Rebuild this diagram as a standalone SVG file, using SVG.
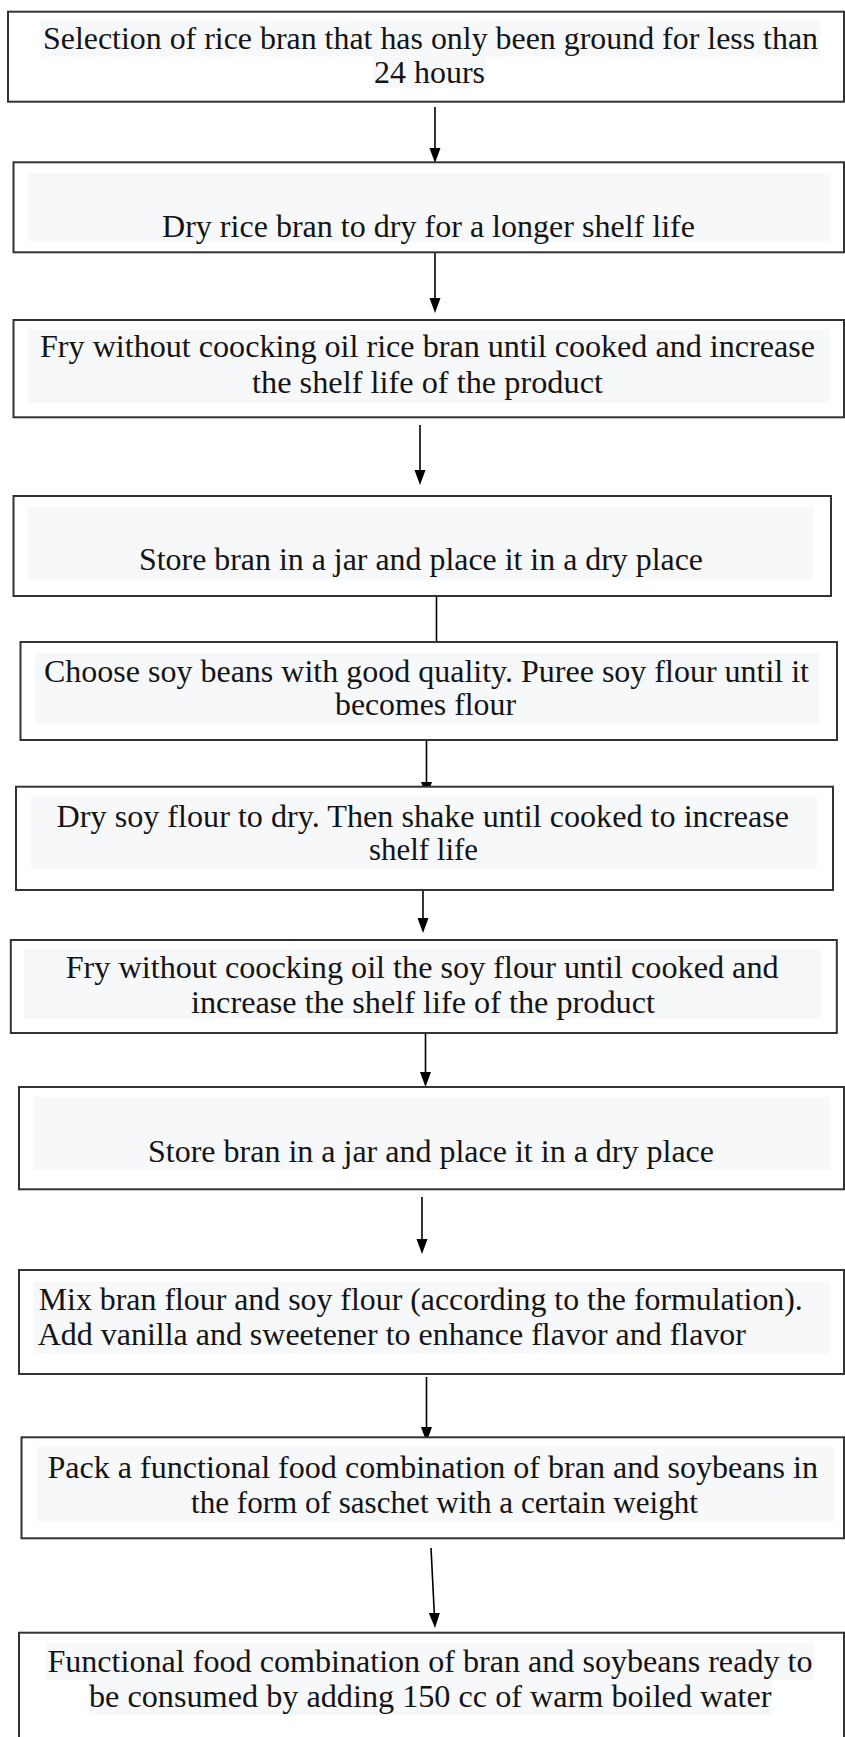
<svg xmlns="http://www.w3.org/2000/svg" width="845" height="1737" viewBox="0 0 845 1737">
<style>
.box{fill:#ffffff;stroke:#333333;stroke-width:2}
.hl{fill:#f7f8fa}
.t{font-family:"Liberation Serif","Times New Roman","DejaVu Serif",serif;font-size:32px;fill:#141414}
.ln{stroke:#000;stroke-width:1.6;fill:none}
.ah{fill:#000}
</style>
<rect x="0" y="0" width="845" height="1737" fill="#ffffff"/>
<g id="connectors">
<line class="ln" x1="435" y1="107" x2="435" y2="150"/><polygon class="ah" points="429.5,148 440.5,148 435,163"/>
<line class="ln" x1="435" y1="252" x2="435" y2="300"/><polygon class="ah" points="429.5,298 440.5,298 435,313"/>
<line class="ln" x1="420" y1="425" x2="420" y2="472"/><polygon class="ah" points="414.5,470 425.5,470 420,485"/>
<line class="ln" x1="436.5" y1="596" x2="436.5" y2="643"/><polygon class="ah" points="431,641 442,641 436.5,656"/>
<line class="ln" x1="426.5" y1="740" x2="426.5" y2="784"/><polygon class="ah" points="421,782 432,782 426.5,797"/>
<line class="ln" x1="423" y1="887" x2="423" y2="920"/><polygon class="ah" points="417.5,918 428.5,918 423,933"/>
<line class="ln" x1="425.5" y1="1030" x2="425.5" y2="1074"/><polygon class="ah" points="420,1072 431,1072 425.5,1087"/>
<line class="ln" x1="422" y1="1197" x2="422" y2="1241"/><polygon class="ah" points="416.5,1239 427.5,1239 422,1254"/>
<line class="ln" x1="426.5" y1="1377" x2="426.5" y2="1429"/><polygon class="ah" points="421,1427 432,1427 426.5,1442"/>
<line class="ln" x1="431" y1="1548" x2="434.4" y2="1615"/><polygon class="ah" points="428.8,1613 439.8,1613 435,1628"/>
</g>
<g id="n1">
<rect class="box" x="8" y="11.7" width="836" height="90"/>
<rect class="hl" x="40.7" y="20.7" width="779.3" height="36"/>
<rect class="hl" x="373" y="57" width="113" height="31"/>
<text class="t" x="43" y="49.3" textLength="775" lengthAdjust="spacingAndGlyphs">Selection of rice bran that has only been ground for less than</text>
<text class="t" x="374" y="83" textLength="111" lengthAdjust="spacingAndGlyphs">24 hours</text>
</g>
<g id="n2">
<rect class="box" x="13.5" y="162.3" width="830.5" height="90"/>
<rect class="hl" x="28" y="173.3" width="802" height="68.4"/>
<text class="t" x="162" y="237" textLength="533" lengthAdjust="spacingAndGlyphs">Dry rice bran to dry for a longer shelf life</text>
</g>
<g id="n3">
<rect class="box" x="13.5" y="320" width="830.5" height="97.3"/>
<rect class="hl" x="28" y="329" width="802" height="74"/>
<text class="t" x="40" y="356.7" textLength="775" lengthAdjust="spacingAndGlyphs">Fry without coocking oil rice bran until cooked and increase</text>
<text class="t" x="252" y="393" textLength="351" lengthAdjust="spacingAndGlyphs">the shelf life of the product</text>
</g>
<g id="n4">
<rect class="box" x="13.5" y="496" width="817.5" height="100"/>
<rect class="hl" x="28" y="506.7" width="785.6" height="72.6"/>
<text class="t" x="139" y="570" textLength="564" lengthAdjust="spacingAndGlyphs">Store bran in a jar and place it in a dry place</text>
</g>
<g id="n5">
<rect class="box" x="20.5" y="642" width="816.5" height="98"/>
<rect class="hl" x="35" y="653" width="784" height="71"/>
<text class="t" x="44" y="681.7" textLength="765" lengthAdjust="spacingAndGlyphs">Choose soy beans with good quality. Puree soy flour until it</text>
<text class="t" x="335" y="715" textLength="181" lengthAdjust="spacingAndGlyphs">becomes flour</text>
</g>
<g id="n6">
<rect class="box" x="16" y="786.7" width="817" height="103.3"/>
<rect class="hl" x="31" y="796.7" width="786" height="72.3"/>
<text class="t" x="56.6" y="826.7" textLength="732.4" lengthAdjust="spacingAndGlyphs">Dry soy flour to dry. Then shake until cooked to increase</text>
<text class="t" x="369" y="860" textLength="109" lengthAdjust="spacingAndGlyphs">shelf life</text>
</g>
<g id="n7">
<rect class="box" x="10.8" y="940" width="826" height="93"/>
<rect class="hl" x="24" y="949" width="797.7" height="70"/>
<text class="t" x="65.7" y="978" textLength="712.9" lengthAdjust="spacingAndGlyphs">Fry without coocking oil the soy flour until cooked and</text>
<text class="t" x="191" y="1012.7" textLength="464" lengthAdjust="spacingAndGlyphs">increase the shelf life of the product</text>
</g>
<g id="n8">
<rect class="box" x="19" y="1087" width="825" height="102.3"/>
<rect class="hl" x="33.4" y="1097" width="796.6" height="73"/>
<text class="t" x="148" y="1161.7" textLength="566" lengthAdjust="spacingAndGlyphs">Store bran in a jar and place it in a dry place</text>
</g>
<g id="n9">
<rect class="box" x="19" y="1270" width="825" height="104"/>
<rect class="hl" x="33.4" y="1281.7" width="796.6" height="71.6"/>
<text class="t" x="38.8" y="1310" textLength="764" lengthAdjust="spacingAndGlyphs">Mix bran flour and soy flour (according to the formulation).</text>
<text class="t" x="37.7" y="1345" textLength="708.3" lengthAdjust="spacingAndGlyphs">Add vanilla and sweetener to enhance flavor and flavor</text>
</g>
<g id="n10">
<rect class="box" x="21.5" y="1437.3" width="822.5" height="101"/>
<rect class="hl" x="36.6" y="1446.7" width="797.4" height="75"/>
<text class="t" x="47.4" y="1478.3" textLength="770.6" lengthAdjust="spacingAndGlyphs">Pack a functional food combination of bran and soybeans in</text>
<text class="t" x="191" y="1513.3" textLength="507" lengthAdjust="spacingAndGlyphs">the form of saschet with a certain weight</text>
</g>
<g id="n11">
<rect class="box" x="19" y="1632.7" width="825" height="110"/>
<rect class="hl" x="45.8" y="1643" width="768.2" height="37"/>
<rect class="hl" x="89" y="1680" width="683" height="35"/>
<text class="t" x="47.4" y="1671.7" textLength="765.1" lengthAdjust="spacingAndGlyphs">Functional food combination of bran and soybeans ready to</text>
<text class="t" x="89" y="1706.7" textLength="682.6" lengthAdjust="spacingAndGlyphs">be consumed by adding 150 cc of warm boiled water</text>
</g>
</svg>
